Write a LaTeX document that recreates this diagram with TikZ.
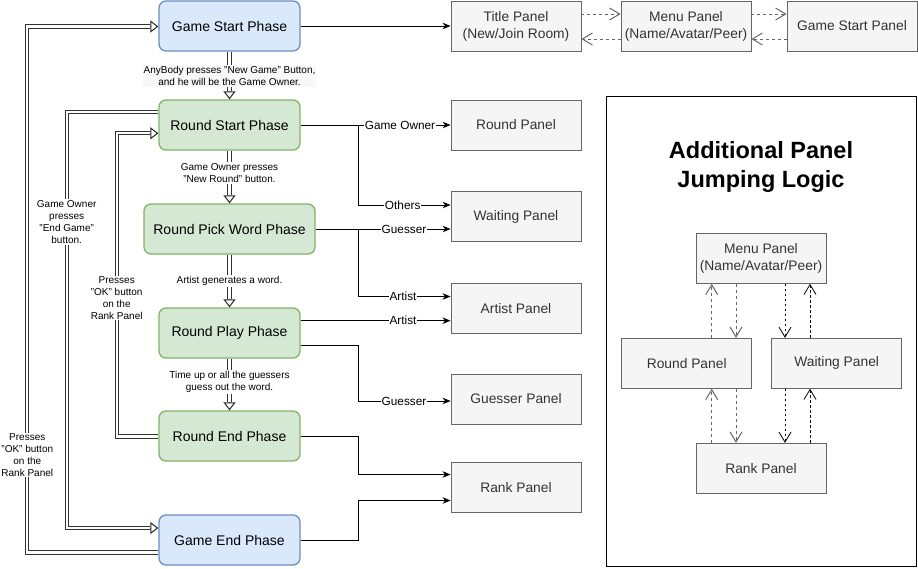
\documentclass[tikz,border=0pt]{standalone}
\usepackage{fontspec}
\setmainfont{Liberation Sans}
\usetikzlibrary{arrows.meta,calc}
\definecolor{bluefill}{HTML}{DAE8FC}
\definecolor{bluedraw}{HTML}{6C8EBF}
\definecolor{greenfill}{HTML}{D5E8D4}
\definecolor{greendraw}{HTML}{82B366}
\definecolor{panelfill}{HTML}{F5F5F5}
\definecolor{paneldraw}{HTML}{666666}
\definecolor{paneltext}{HTML}{333333}
\definecolor{lblbg}{HTML}{F8F8F8}
\begin{document}
\begin{tikzpicture}[x=1pt,y=-1pt,
  phase/.style={draw, rounded corners=7pt, line width=1.3pt, minimum height=50pt, minimum width=141pt, inner sep=0pt, align=center, font=\fontsize{14}{16}\selectfont},
  bphase/.style={phase, fill=bluefill, draw=bluedraw},
  gphase/.style={phase, fill=greenfill, draw=greendraw},
  panel/.style={draw=paneldraw, fill=panelfill, text=paneltext, line width=0.9pt, minimum width=130pt, minimum height=50pt, inner sep=0pt, align=center, font=\fontsize{13.8}{17}\selectfont},
  conn/.style={draw=black, line width=0.9pt, -{Stealth[length=8pt,width=6.5pt,inset=2.5pt]}},
  clabel/.style={fill=white, inner sep=0.6pt, font=\fontsize{11.8}{13}\selectfont},
  dbl/.style={draw=black!80, line width=1pt, double=white, double distance=2.2pt},
  dhead/.style={draw=black!85, line width=1pt, -{Triangle[open,length=8pt,width=12pt]}},
  dlabel/.style={fill=white, inner sep=1pt, align=center, font=\fontsize{10}{12}\selectfont},
  dasharr/.style={draw=paneldraw, line width=0.9pt, dash pattern=on 3pt off 3pt, -{Straight Barb[length=10pt,width=12pt,line width=1pt]}},
  dasharrk/.style={draw=black, line width=0.65pt, dash pattern=on 2.5pt off 2.5pt, -{Straight Barb[length=10pt,width=12pt,line width=0.8pt]}},
]
\useasboundingbox (0,0) rectangle (918,568);

% phases
\node[bphase] (gs) at (229.5,26) {Game Start Phase};
\node[gphase] (rs) at (229.5,125) {Round Start Phase};
\node[gphase, minimum width=171pt] (rp) at (229.5,229) {Round Pick Word Phase};
\node[gphase] (pl) at (229.5,333) {Round Play Phase};
\node[gphase] (re) at (229.5,436) {Round End Phase};
\node[bphase] (ge) at (229.5,540) {Game End Phase};

% panels
\node[panel] (tp) at (516,26) {Title Panel\\(New/Join Room)};
\node[panel] (mp) at (686,26) {Menu Panel\\(Name/Avatar/Peer)};
\node[panel] (gsp) at (852,26) {Game Start Panel};
\node[panel] (rpn) at (516,125) {Round Panel};
\node[panel] (wp) at (516,216.5) {Waiting Panel};
\node[panel] (ap) at (516,308.5) {Artist Panel};
\node[panel] (gp) at (516,399) {Guesser Panel};
\node[panel] (rk) at (516,487.5) {Rank Panel};

% additional box
\node[draw=black, line width=1pt, minimum width=310pt, minimum height=470pt, inner sep=0pt] (addbox) at (761.5,331.5) {};
\node[font=\bfseries\fontsize{23.5}{28.5}\selectfont, align=center] (addtitle) at (761,167) {Additional Panel\\Jumping Logic};
\node[panel] (mp2) at (761,258.3) {Menu Panel\\(Name/Avatar/Peer)};
\node[panel] (rp2) at (686.7,363.3) {Round Panel};
\node[panel] (wp2) at (836.7,363.3) {Waiting Panel};
\node[panel] (rk2) at (761,468.3) {Rank Panel};

% top dashed
\draw[dasharr] (tp.east |- 0,14) -- (mp.west |- 0,14);
\draw[dasharr] (mp.west |- 0,39) -- (tp.east |- 0,39);
\draw[dasharr] (mp.east |- 0,14) -- (gsp.west |- 0,14);
\draw[dasharr] (gsp.west |- 0,39) -- (mp.east |- 0,39);

% inner dashed
\draw[dasharr] (rp2.north -| 711.7,0) -- (mp2.south -| 711.7,0);
\draw[dasharr] (mp2.south -| 736,0) -- (rp2.north -| 736,0);
\draw[dasharrk] (mp2.south -| 785,0) -- (wp2.north -| 785,0);
\draw[dasharrk] (wp2.north -| 810,0) -- (mp2.south -| 810,0);
\draw[dasharr] (rk2.north -| 711.7,0) -- (rp2.south -| 711.7,0);
\draw[dasharr] (rp2.south -| 736,0) -- (rk2.north -| 736,0);
\draw[dasharrk] (wp2.south -| 785,0) -- (rk2.north -| 785,0);
\draw[dasharrk] (rk2.north -| 810,0) -- (wp2.south -| 810,0);

% right connectors
\draw[conn] (gs.east) -- (tp.west);
\draw[conn] (rs.east) -- (rpn.west);
\draw[conn] (358,125) |- (wp.west |- 0,205);
\draw[conn] (rp.east) -- (wp.west |- rp.east);
\draw[conn] (358,229) |- (ap.west |- 0,296.5);
\draw[conn] (pl.east |- 0,320.7) -- (ap.west |- 0,320.7);
\draw[conn] (pl.east |- 0,345.7) -- (358,345.7) |- (gp.west |- 0,401);
\draw[conn] (re.east) -- (358,436) |- (rk.west |- 0,474.5);
\draw[conn] (ge.east |- 0,540.5) -- (358,540.5) |- (rk.west |- 0,500.5);
\node[clabel] (l1) at (400,125) {Game Owner};
\node[clabel] (l2) at (402.7,205) {Others};
\node[clabel] (l3) at (404,229) {Guesser};
\node[clabel] (l4) at (403,296.5) {Artist};
\node[clabel] (l5) at (403,320.7) {Artist};
\node[clabel] (l6) at (404,401) {Guesser};

% vertical double arrows between phases
\draw[dbl] (gs.south) -- ($(rs.north)+(0,-8)$);
\draw[dhead] ($(rs.north)+(0,-8)$) -- (rs.north);
\draw[dbl] (rs.south) -- ($(rp.north)+(0,-8)$);
\draw[dhead] ($(rp.north)+(0,-8)$) -- (rp.north);
\draw[dbl] (rp.south) -- ($(pl.north)+(0,-8)$);
\draw[dhead] ($(pl.north)+(0,-8)$) -- (pl.north);
\draw[dbl] (pl.south) -- ($(re.north)+(0,-8)$);
\draw[dhead] ($(re.north)+(0,-8)$) -- (re.north);
\node[dlabel, fill=lblbg] (v1) at (229.5,76) {AnyBody presses "New Game" Button,\\and he will be the Game Owner.};
\node[dlabel] (v2) at (229.5,173) {Game Owner presses\\"New Round" button.};
\node[dlabel] (v3) at (229.5,281) {Artist generates a word.};
\node[dlabel] (v4) at (229.5,382) {Time up or all the guessers\\guess out the word.};

% left double arrows
\draw[dbl] (ge.west |- 0,552.5) -- (27.3,552.5) -- (27.3,26.5) -- ($(gs.west |- 0,26.5)+(-8,0)$);
\draw[dhead] ($(gs.west |- 0,26.5)+(-8,0)$) -- (gs.west |- 0,26.5);
\draw[dbl] (rs.west |- 0,112.3) -- (66.7,112.3) -- (66.7,528) -- ($(ge.west |- 0,528)+(-8,0)$);
\draw[dhead] ($(ge.west |- 0,528)+(-8,0)$) -- (ge.west |- 0,528);
\draw[dbl] (re.west |- 0,436.5) -- (116.7,436.5) -- (116.7,133.3) -- ($(rs.west |- 0,133.3)+(-8,0)$);
\draw[dhead] ($(rs.west |- 0,133.3)+(-8,0)$) -- (rs.west |- 0,133.3);
\node[dlabel] (s1) at (27.3,455) {Presses\\"OK" button\\on the\\Rank Panel};
\node[dlabel] (s2) at (66.7,222) {Game Owner\\presses\\"End Game"\\button.};
\node[dlabel] (s3) at (116.7,298) {Presses\\"OK" button\\on the\\Rank Panel};
\end{tikzpicture}
\end{document}
